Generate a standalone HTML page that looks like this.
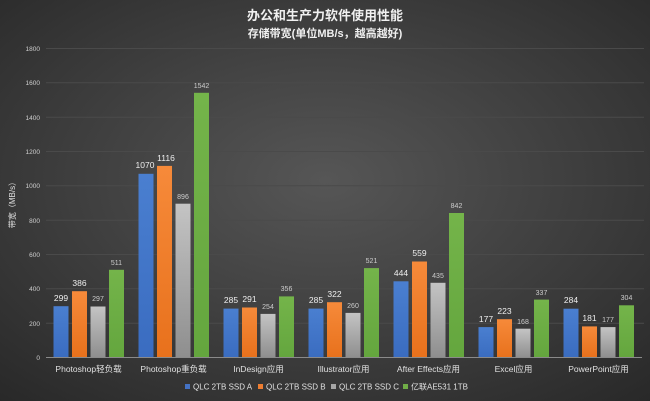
<!DOCTYPE html>
<html><head><meta charset="utf-8"><style>
html,body{margin:0;padding:0}
body{width:650px;height:401px;overflow:hidden;background:#333}
svg{display:block;font-family:"Liberation Sans","Noto Sans CJK SC",sans-serif}
</style></head><body>
<svg width="650" height="401" viewBox="0 0 650 401" xmlns="http://www.w3.org/2000/svg">
<defs>
<radialGradient id="bg" cx="0.5" cy="0.45" r="0.75">
<stop offset="0" stop-color="#565656"/><stop offset="1" stop-color="#282828"/>
</radialGradient>
<linearGradient id="gA" x1="0" y1="0" x2="0" y2="1"><stop offset="0" stop-color="#4a7fd0"/><stop offset="1" stop-color="#3a6cc0"/></linearGradient>
<linearGradient id="gB" x1="0" y1="0" x2="0" y2="1"><stop offset="0" stop-color="#f68a3a"/><stop offset="1" stop-color="#e8711c"/></linearGradient>
<linearGradient id="gC" x1="0" y1="0" x2="0" y2="1"><stop offset="0" stop-color="#c4c4c4"/><stop offset="1" stop-color="#8e8e8e"/></linearGradient>
<linearGradient id="gD" x1="0" y1="0" x2="0" y2="1"><stop offset="0" stop-color="#74b44a"/><stop offset="1" stop-color="#64a63e"/></linearGradient>
</defs>
<rect width="650" height="401" fill="url(#bg)"/>
<text x="325" y="20" text-anchor="middle" fill="#f0f0f0" font-size="13" font-weight="bold">办公和生产力软件使用性能</text>
<text x="325" y="37" text-anchor="middle" fill="#f0f0f0" font-size="11" font-weight="bold">存储带宽(单位MB/s，越高越好)</text>
<g stroke="#4a4a4a" stroke-width="1">
<line x1="46" x2="644" y1="48.5" y2="48.5"/><line x1="46" x2="644" y1="82.8" y2="82.8"/><line x1="46" x2="644" y1="117.2" y2="117.2"/><line x1="46" x2="644" y1="151.5" y2="151.5"/><line x1="46" x2="644" y1="185.8" y2="185.8"/><line x1="46" x2="644" y1="220.2" y2="220.2"/><line x1="46" x2="644" y1="254.5" y2="254.5"/><line x1="46" x2="644" y1="288.8" y2="288.8"/><line x1="46" x2="644" y1="323.2" y2="323.2"/>
</g>
<g fill="#cfcfcf" font-size="6.5" text-anchor="end">
<text x="40" y="51">1800</text><text x="40" y="85">1600</text><text x="40" y="120">1400</text><text x="40" y="154">1200</text><text x="40" y="188">1000</text><text x="40" y="223">800</text><text x="40" y="257">600</text><text x="40" y="291">400</text><text x="40" y="326">200</text><text x="40" y="360">0</text>
</g>
<text transform="translate(15,203) rotate(-90)" text-anchor="middle" fill="#e0e0e0" font-size="8">带宽（MB/s）</text>
<g font-size="8.5" text-anchor="middle">
<g transform="translate(88.5,0)">
<rect x="-35" y="306.2" width="15" height="51.3" fill="url(#gA)"/><rect x="-16.5" y="291.2" width="15" height="66.3" fill="url(#gB)"/><rect x="2" y="306.5" width="15" height="51" fill="url(#gC)"/><rect x="20.5" y="269.8" width="15" height="87.7" fill="url(#gD)"/>
<text x="-27.5" y="301" fill="#eee">299</text><text x="-9" y="286" fill="#eee">386</text><text x="9.5" y="301" fill="#ccc" font-size="7">297</text><text x="28" y="265" fill="#ccc" font-size="7">511</text>
</g>
<g transform="translate(173.5,0)">
<rect x="-35" y="173.8" width="15" height="183.7" fill="url(#gA)"/><rect x="-16.5" y="165.9" width="15" height="191.6" fill="url(#gB)"/><rect x="2" y="203.7" width="15" height="153.8" fill="url(#gC)"/><rect x="20.5" y="92.8" width="15" height="264.7" fill="url(#gD)"/>
<text x="-28.5" y="168" fill="#eee">1070</text><text x="-7.5" y="161" fill="#eee">1116</text><text x="9.5" y="199" fill="#ccc" font-size="7">896</text><text x="28" y="88" fill="#ccc" font-size="7">1542</text>
</g>
<g transform="translate(258.5,0)">
<rect x="-35" y="308.6" width="15" height="48.9" fill="url(#gA)"/><rect x="-16.5" y="307.5" width="15" height="50" fill="url(#gB)"/><rect x="2" y="313.9" width="15" height="43.6" fill="url(#gC)"/><rect x="20.5" y="296.4" width="15" height="61.1" fill="url(#gD)"/>
<text x="-27.5" y="303" fill="#eee">285</text><text x="-9" y="302" fill="#eee">291</text><text x="9.5" y="309" fill="#ccc" font-size="7">254</text><text x="28" y="291" fill="#ccc" font-size="7">356</text>
</g>
<g transform="translate(343.5,0)">
<rect x="-35" y="308.6" width="15" height="48.9" fill="url(#gA)"/><rect x="-16.5" y="302.2" width="15" height="55.3" fill="url(#gB)"/><rect x="2" y="312.9" width="15" height="44.6" fill="url(#gC)"/><rect x="20.5" y="268.1" width="15" height="89.4" fill="url(#gD)"/>
<text x="-27.5" y="303" fill="#eee">285</text><text x="-9" y="297" fill="#eee">322</text><text x="9.5" y="308" fill="#ccc" font-size="7">260</text><text x="28" y="263" fill="#ccc" font-size="7">521</text>
</g>
<g transform="translate(428.5,0)">
<rect x="-35" y="281.3" width="15" height="76.2" fill="url(#gA)"/><rect x="-16.5" y="261.5" width="15" height="96" fill="url(#gB)"/><rect x="2" y="282.8" width="15" height="74.7" fill="url(#gC)"/><rect x="20.5" y="213" width="15" height="144.5" fill="url(#gD)"/>
<text x="-27.5" y="276" fill="#eee">444</text><text x="-9" y="256" fill="#eee">559</text><text x="9.5" y="278" fill="#ccc" font-size="7">435</text><text x="28" y="208" fill="#ccc" font-size="7">842</text>
</g>
<g transform="translate(513.5,0)">
<rect x="-35" y="327.1" width="15" height="30.4" fill="url(#gA)"/><rect x="-16.5" y="319.2" width="15" height="38.3" fill="url(#gB)"/><rect x="2" y="328.7" width="15" height="28.8" fill="url(#gC)"/><rect x="20.5" y="299.6" width="15" height="57.9" fill="url(#gD)"/>
<text x="-27.5" y="322" fill="#eee">177</text><text x="-9" y="314" fill="#eee">223</text><text x="9.5" y="324" fill="#ccc" font-size="7">168</text><text x="28" y="295" fill="#ccc" font-size="7">337</text>
</g>
<g transform="translate(598.5,0)">
<rect x="-35" y="308.7" width="15" height="48.8" fill="url(#gA)"/><rect x="-16.5" y="326.4" width="15" height="31.1" fill="url(#gB)"/><rect x="2" y="327.1" width="15" height="30.4" fill="url(#gC)"/><rect x="20.5" y="305.3" width="15" height="52.2" fill="url(#gD)"/>
<text x="-27.5" y="303" fill="#eee">284</text><text x="-9" y="321" fill="#eee">181</text><text x="9.5" y="322" fill="#ccc" font-size="7">177</text><text x="28" y="300" fill="#ccc" font-size="7">304</text>
</g>
</g>
<line x1="46" x2="642" y1="357.5" y2="357.5" stroke="#8a8a8a" stroke-width="1"/>
<g fill="#e0e0e0" font-size="8.5" text-anchor="middle">
<text x="88.5" y="372">Photoshop轻负载</text><text x="173.5" y="372">Photoshop重负载</text><text x="258.5" y="372">InDesign应用</text><text x="343.5" y="372">Illustrator应用</text><text x="428.5" y="372">After Effects应用</text><text x="513.5" y="372">Excel应用</text><text x="598.5" y="372">PowerPoint应用</text>
</g>
<g fill="#e0e0e0" font-size="8">
<rect x="185" y="384" width="5" height="5" fill="#4472c4"/><text x="193" y="389.5">QLC 2TB SSD A</text>
<rect x="258" y="384" width="5" height="5" fill="#ed7d31"/><text x="266" y="389.5">QLC 2TB SSD B</text>
<rect x="331" y="384" width="5" height="5" fill="#a5a5a5"/><text x="339" y="389.5">QLC 2TB SSD C</text>
<rect x="403" y="384" width="5" height="5" fill="#70ad47"/><text x="411" y="389.5">亿联AE531 1TB</text>
</g>
</svg>
</body></html>
